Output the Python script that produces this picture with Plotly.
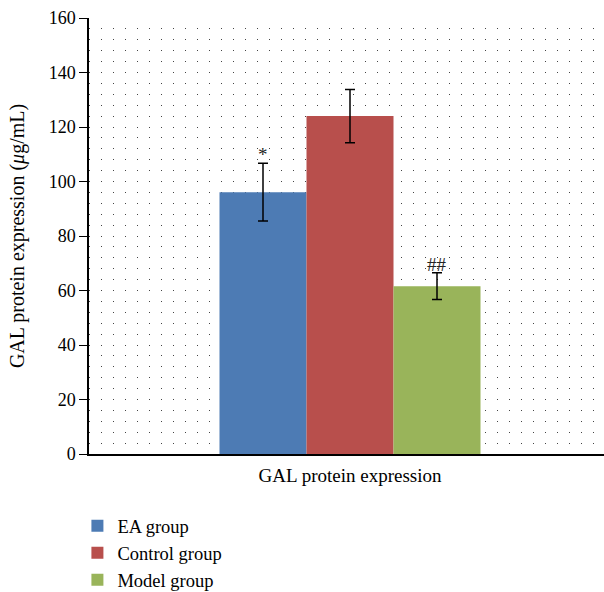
import plotly.graph_objects as go

category = ["GAL protein expression"]
groups = ["EA group", "Control group", "Model group"]
values = [96.1, 124.0, 61.6]
errors = [10.6, 9.8, 4.9]
marks = ["*", "", "##"]
colors = ["#4D7BB4", "#B84F4C", "#99B45A"]

FONT = "Liberation Serif"

fig = go.Figure()
for g, v, e, c in zip(groups, values, errors, colors):
    fig.add_trace(go.Bar(
        name=g, x=[0], y=[v], marker=dict(color=c, line=dict(width=0)),
        error_y=dict(type="data", array=[e], visible=True, color="black", thickness=1.5, width=5),
    ))

offsets = [-1, 0, 1]
bw = 0.5 / 3
for o, v, e, m in zip(offsets, values, errors, marks):
    if m:
        fig.add_annotation(x=o * bw, y=v + e, text=m, showarrow=False, yanchor="bottom",
                           yshift=-4, font=dict(family=FONT, size=19, color="#222"))

fig.update_layout(
    width=604, height=592,
    margin=dict(l=89, r=0, t=18, b=138, autoexpand=False),
    plot_bgcolor="white", paper_bgcolor="white",
    barmode="group", bargap=0.5, bargroupgap=0,
    font=dict(family=FONT, size=18, color="black"),
    legend=dict(orientation="v", x=-0.0225, xanchor="left", y=-0.122, yanchor="top",
                font=dict(family=FONT, size=18.5), itemwidth=30, tracegroupgap=0),
    showlegend=True,
)
fig.update_xaxes(
    range=[-0.5, 0.4866], tickmode="array", tickvals=[0], ticktext=category,
    showline=True, linecolor="black", linewidth=2, ticks="", showgrid=False,
    zeroline=False, tickfont=dict(family=FONT, size=19), ticklabelstandoff=3,
)
fig.update_yaxes(
    range=[0, 160], dtick=20, showline=True, linecolor="black", linewidth=1.5,
    ticks="outside", ticklen=8, tickcolor="black", tickwidth=1.2,
    showgrid=True, gridcolor="#444", gridwidth=1, griddash="1px,11px",
    minor=dict(dtick=4, showgrid=True, gridcolor="#444", gridwidth=1, griddash="1px,11px"),
    zeroline=False, tickfont=dict(family=FONT, size=18),
    title=dict(text="GAL protein expression (<i>μ</i>g/mL)", font=dict(family=FONT, size=20), standoff=19),
)
fig.write_html("out.html")
